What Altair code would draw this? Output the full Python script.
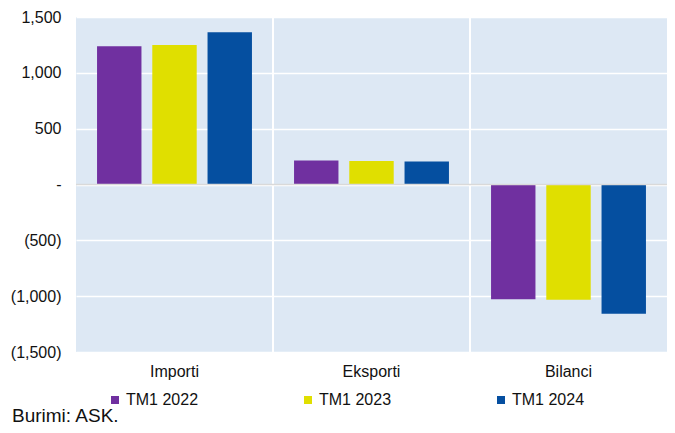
import altair as alt
import pandas as pd

categories = ["Importi", "Eksporti", "Bilanci"]
series = ["TM1 2022", "TM1 2023", "TM1 2024"]
v2022 = [1238, 214, -1027]
v2023 = [1250, 211, -1033]
v2024 = [1363, 205, -1158]
colors = ["#7030a0", "#e0df00", "#054fa0"]
y_ticks = [-1500, -1000, -500, 0, 500, 1000, 1500]
source_note = "Burimi: ASK."

rows = []
for s, vals in zip(series, [v2022, v2023, v2024]):
    for c, v in zip(categories, vals):
        rows.append({"cat": c, "series": s, "val": v})
df = pd.DataFrame(rows)

FONT = "Liberation Sans"
W, H = 591, 335

x_scale = alt.Scale(domain=categories, paddingInner=0, paddingOuter=0)


def x_enc(**kw):
    return alt.X("cat:N", sort=categories, scale=x_scale, title=None,
                 axis=alt.Axis(labelFontSize=16, labelFont=FONT, labelColor="#111111",
                               labelPadding=11, ticks=False, domain=False, grid=False,
                               labelAngle=0),
                 **kw)


label_expr = ("datum.value == 0 ? '-\u00a0' : (datum.value < 0 ? '(' + format(-datum.value, ',') + ')' "
              ": format(datum.value, ',') + '\u00a0')")

bars = alt.Chart(df).mark_bar().encode(
    x=x_enc(),
    xOffset=alt.XOffset("series:N", sort=series,
                        scale=alt.Scale(domain=series, paddingInner=0.196, paddingOuter=0.381)),
    y=alt.Y("val:Q", title=None,
            scale=alt.Scale(domain=[-1500, 1500], nice=False, zero=False),
            axis=alt.Axis(values=y_ticks, labelExpr=label_expr, labelFontSize=16,
                          labelFont=FONT, labelColor="#111111", labelPadding=15,
                          ticks=False, domain=False, grid=True, gridColor="white",
                          gridWidth=1.5)),
    color=alt.Color("series:N", sort=series,
                    scale=alt.Scale(domain=series, range=colors),
                    legend=alt.Legend(title=None, orient="none", legendX=31, legendY=375,
                                      direction="horizontal", symbolType="square",
                                      symbolSize=64, symbolStrokeWidth=0,
                                      labelFontSize=16, labelFont=FONT, labelColor="#111111",
                                      labelOffset=3, columnPadding=101, gridAlign="all")),
)

sep_df = pd.DataFrame({"cat": categories[1:]})
separators = alt.Chart(sep_df).mark_rule(color="white", strokeWidth=2).encode(
    x=x_enc(bandPosition=0),
)

zero_df = pd.DataFrame({"val": [0]})
zero_line = alt.Chart(zero_df).mark_rule(color="#d9d9d9", strokeWidth=1.5).encode(
    y=alt.Y("val:Q"),
)

note_df = pd.DataFrame({"t": [source_note]})
note = alt.Chart(note_df).mark_text(align="left", baseline="alphabetic", fontSize=19,
                                    font=FONT, color="#111111").encode(
    x=alt.value(-64), y=alt.value(405), text="t:N"
)

chart = alt.layer(separators, bars, zero_line, note).properties(
    width=W, height=H,
    background="white",
    autosize=alt.AutoSizeParams(type="none"),
    padding={"left": 68, "top": 9, "right": 0, "bottom": 73},
).configure_view(stroke=None, fill="#dde8f4")

chart.save("out.html", embed_options={"renderer": "svg", "actions": False})
